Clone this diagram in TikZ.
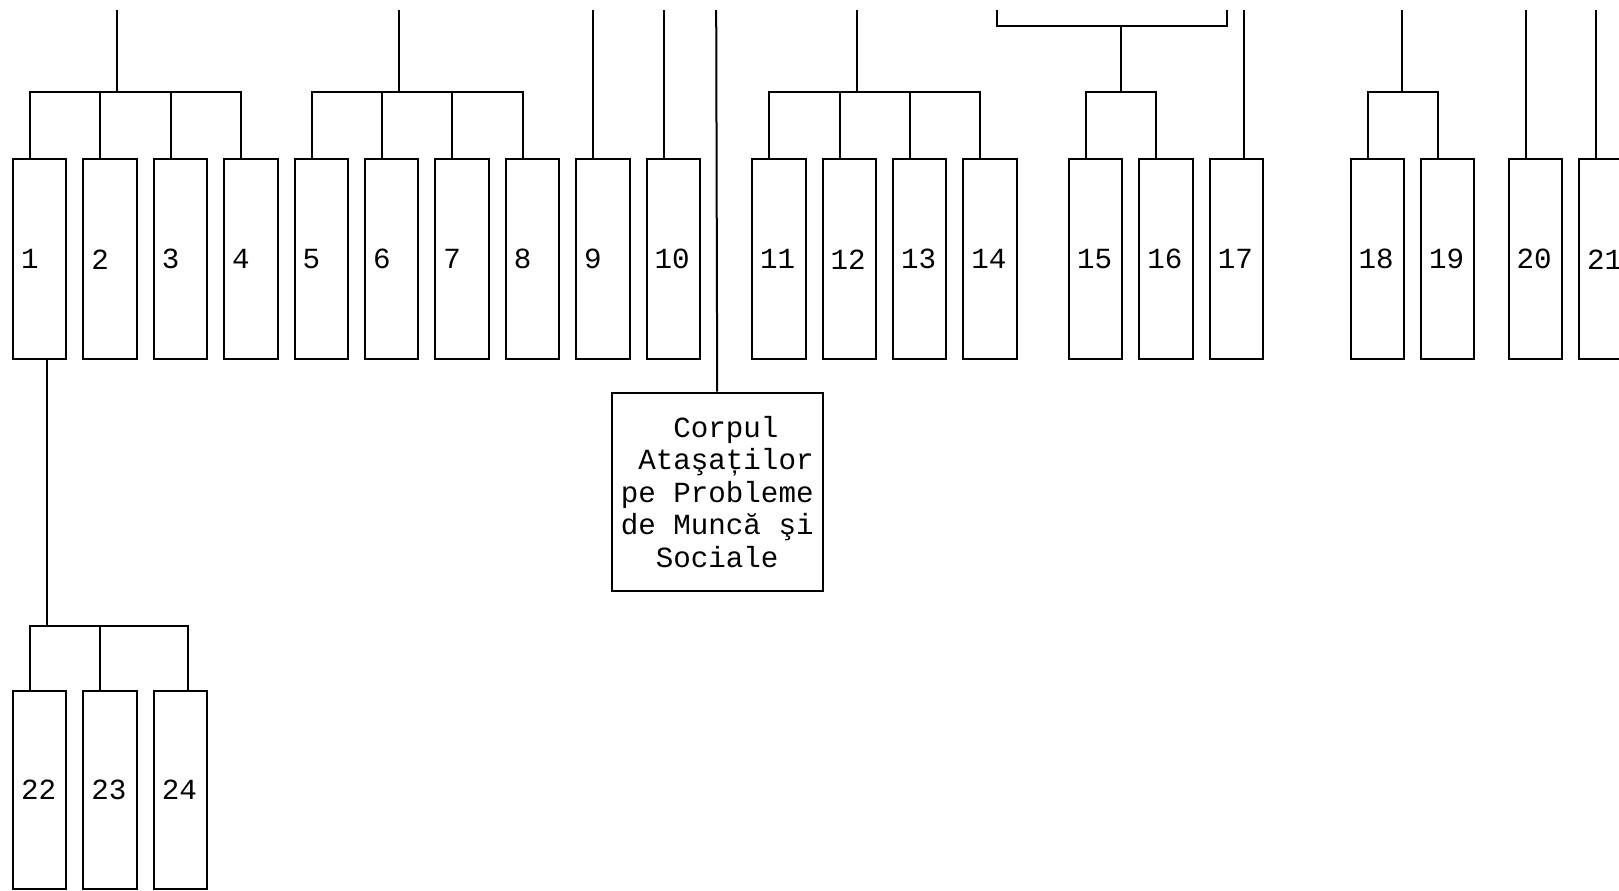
\documentclass[tikz,border=0pt]{standalone}
\usepackage{fontspec}
\setmainfont{Liberation Mono}
\usetikzlibrary{calc}
\begin{document}
\begin{tikzpicture}[x=0.5pt,y=-0.5pt,line width=1pt,
  labelfont/.style={font=\fontsize{14.6pt}{16.25pt}\selectfont},
  box/.style={draw,rectangle,inner xsep=4pt,inner ysep=0pt,minimum height=100pt,
    text width=18.65pt,align=left,anchor=north west,labelfont},
  lowbox/.style={box,minimum height=99.3pt},
  bigbox/.style={draw,rectangle,inner sep=0pt,minimum width=105.5pt,minimum height=99.2pt,
    align=left,anchor=north west,labelfont}]
\useasboundingbox (0,0) rectangle (1619,890);
\clip (0,0) rectangle (1619,890);
\fill[white] (0,0) rectangle (1619,890);

% upper row of boxes
\foreach \n/\x in {1/12,2/82.4,3/152.8,4/223.2,5/293.6,6/364,7/434.4,8/504.8,9/575.2,10/645.6,
  11/751.2,12/821.6,13/892,14/962.4,15/1068,16/1138.4,17/1208.8,18/1349.6,19/1420,20/1507.6,21/1578}
  \node[box] (b\n) at (\x,158.3) {\n};

% lower row of boxes
\foreach \n/\x in {22/12,23/82.4,24/152.8}
  \node[lowbox] (b\n) at (\x,689.5) {\n};

% Corpul box
\node[bigbox] (corpul) at (610.7,391.7)
  {\hphantom{000}Corpul\\\hphantom{0}Ataşaților\\pe Probleme\\de Muncă şi\\\hphantom{00}Sociale};

% group 1-4
\coordinate (r1) at (117.4,10);
\foreach \c in {1,...,4}
  \draw (r1) -- ++(0,81.7) -| ($(b\c.north west)+(18,0)$);
% group 5-8
\coordinate (r2) at (399,10);
\foreach \c in {5,...,8}
  \draw (r2) -- ++(0,81.7) -| ($(b\c.north west)+(18,0)$);
% singles 9, 10
\coordinate (t9) at (593.2,10);
\draw (t9) -- (t9 |- b9.north);
\coordinate (t10) at (663.6,10);
\draw (t10) -- (t10 |- b10.north);
% Corpul line
\coordinate (tc) at (716.2,10);
\draw (tc) -- (corpul.north);
% group 11-14
\coordinate (r3) at (856.6,10);
\foreach \c in {11,...,14}
  \draw (r3) -- ++(0,81.7) -| ($(b\c.north west)+(18,0)$);
% bracket and group 15-16
\coordinate (bl) at (997.3,10);
\coordinate (br) at (1226.7,10);
\draw (bl) -- ++(0,16) -| (br);
\coordinate (r4) at (1121,26);
\foreach \c in {15,16}
  \draw (r4) -- ++(0,65.7) -| ($(b\c.north west)+(18,0)$);
% single 17
\coordinate (t17) at (1244.3,10);
\draw (t17) -- (t17 |- b17.north);
% group 18-19
\coordinate (r5) at (1402.3,10);
\foreach \c in {18,19}
  \draw (r5) -- ++(0,81.7) -| ($(b\c.north west)+(18,0)$);
% singles 20, 21
\coordinate (t20) at (1525.7,10);
\draw (t20) -- (t20 |- b20.north);
\coordinate (t21) at (1596,10);
\draw (t21) -- (t21 |- b21.north);
% group 22-24 below box 1
\coordinate (r6) at ($(b1.south west)+(35,0)$);
\draw (r6) -- ++(0,266) -| ($(b22.north west)+(18,0)$);
\draw (r6) -- ++(0,266) -| ($(b23.north west)+(18,0)$);
\draw (r6) -- ++(0,266) -| ($(b24.north west)+(35,0)$);
\end{tikzpicture}
\end{document}
